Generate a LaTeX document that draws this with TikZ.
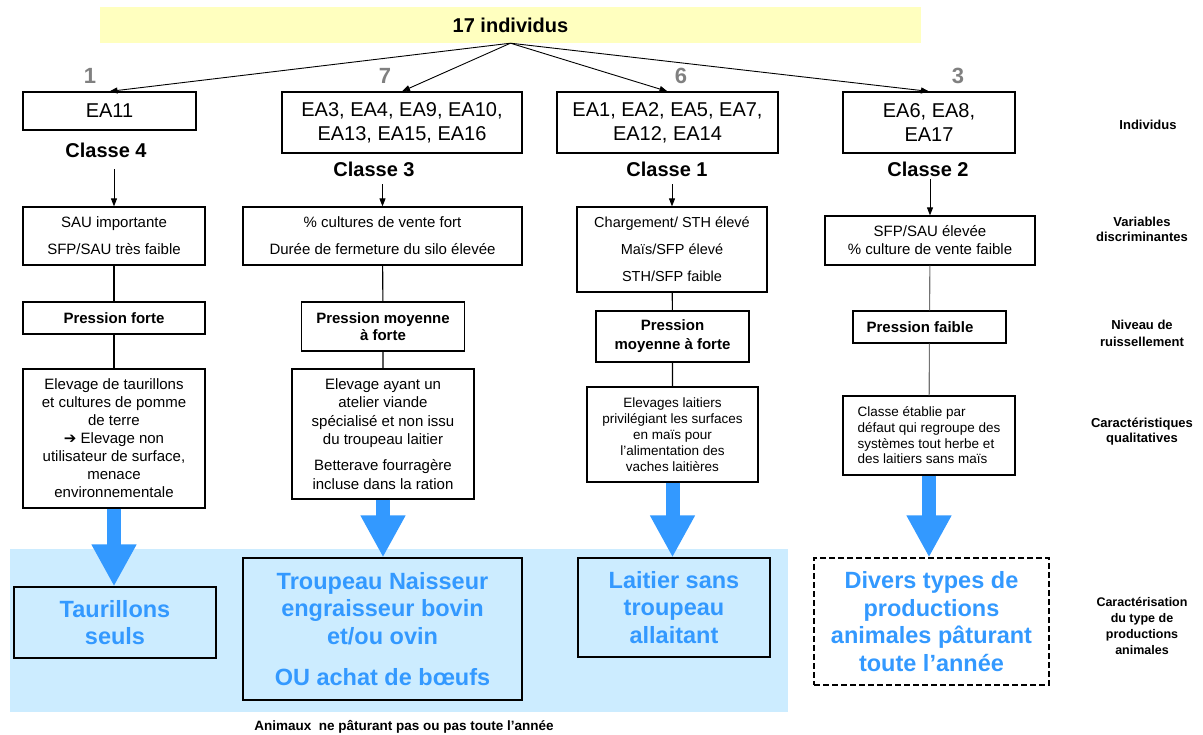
\documentclass[tikz,border=0pt]{standalone}
\usepackage{fontspec}
\setmainfont{Liberation Sans}
\newfontfamily\symb{DejaVu Sans}
\usetikzlibrary{arrows.meta}
\definecolor{bandeau}{RGB}{255,255,191}
\definecolor{fondbleu}{RGB}{204,236,255}
\definecolor{bleu}{RGB}{51,153,255}
\def\fs#1#2{\fontsize{#1}{#2}\selectfont}
\tikzset{
  boite/.style={draw, line width=1.2pt, inner sep=0pt, align=center},
  ea/.style={boite, font=\fs{20}{24}},
  var/.style={boite, font=\fs{15}{18}},
  pres/.style={boite, font=\bfseries\fs{15}{17}},
  classe/.style={font=\bfseries\fs{20}{24}},
  effectif/.style={font=\bfseries\fs{22}{26}, text=black!50},
  legende/.style={font=\bfseries\fs{13}{15}, align=center},
  fleche/.style={-{Triangle[length=8pt,width=6pt]}, line width=0.9pt},
  trait/.style={line width=1.1pt},
  grossefleche/.style={bleu, line width=14pt, -{Triangle[length=42pt,width=42pt]}},
  typeprod/.style={boite, font=\bfseries\fs{23.5}{27.5}, text=bleu},
}

\begin{document}
\begin{tikzpicture}[x=1pt,y=-1pt]
\useasboundingbox (0,0) rectangle (1203,735);
\fill[fondbleu] (10,549) rectangle (788,712);

\node[fill=bandeau, minimum width=821pt, minimum height=36pt, inner sep=0pt,
      font=\bfseries\fs{20}{24}] (top) at (510.5,25) {17 individus};

\node[effectif] (n4) at (90,76) {1};
\node[effectif] (n3) at (385,76) {7};
\node[effectif] (n1) at (681,76) {6};
\node[effectif] (n2) at (958,76) {3};

\node[ea, minimum width=173pt, minimum height=38pt] (ind4) at (109.5,111) {EA11};
\node[ea, minimum width=240pt, minimum height=61pt] (ind3) at (402,122.5) {EA3, EA4, EA9, EA10,\\EA13, EA15, EA16};
\node[ea, minimum width=221pt, minimum height=61pt] (ind1) at (667.5,122.5) {EA1, EA2, EA5, EA7,\\EA12, EA14};
\node[ea, minimum width=172pt, minimum height=61pt] (ind2) at (929,122.5) {EA6, EA8,\\EA17};

\node[classe] (cl4) at (106,150) {Classe 4};
\node[classe] (cl3) at (374,169) {Classe 3};
\node[classe] (cl1) at (667,169) {Classe 1};
\node[classe] (cl2) at (928,169) {Classe 2};

\node[var, minimum width=182pt, minimum height=58pt] (var4) at (114,236) {SAU importante\\[9pt]SFP/SAU très faible};
\node[var, minimum width=279pt, minimum height=58pt] (var3) at (382.5,236) {\% cultures de vente fort\\[9pt]Durée de fermeture du silo élevée};
\node[var, minimum width=190pt, minimum height=85pt, font=\fs{14.5}{18}] (var1) at (672,249.5) {Chargement/ STH élevé\\[9pt]Maïs/SFP élevé\\[9pt]STH/SFP faible};
\node[var, minimum width=210pt, minimum height=49pt] (var2) at (930,240.5) {SFP/SAU élevée\\\% culture de vente faible};

\node[pres, minimum width=182pt, minimum height=32pt] (pres4) at (114,318) {Pression forte};
\node[pres, minimum width=163.5pt, minimum height=49pt] (pres3) at (383,326.5) {Pression moyenne\\à forte};
\node[pres, minimum width=153pt, minimum height=51pt, font=\bfseries\fs{15}{19}] (pres1) at (672.5,336.5) {Pression\\moyenne à forte};
\node[pres, minimum width=153pt, minimum height=32pt] (pres2) at (929.5,327) {Pression faible\hspace*{19pt}};

\node[var, minimum width=182pt, minimum height=139pt] (qual4) at (114,438.5) {Elevage de taurillons\\et cultures de pomme\\de terre\\{\symb\bfseries ➔} Elevage non\\utilisateur de surface,\\menace\\environnementale};
\node[var, minimum width=182pt, minimum height=130pt, font=\fs{15}{18.3}] (qual3) at (383,434) {Elevage ayant un\\atelier viande\\spécialisé et non issu\\du troupeau laitier\\[8pt]Betterave fourragère\\incluse dans la ration};
\node[var, minimum width=171pt, minimum height=95pt, font=\fs{13.5}{16}] (qual1) at (672.5,434.5) {Elevages laitiers\\privilégiant les surfaces\\en maïs pour\\l'alimentation des\\vaches laitières};
\node[var, minimum width=172pt, minimum height=79pt, font=\fs{13.5}{15.7}, align=left] (qual2) at (929,435.5) {Classe établie par\\défaut qui regroupe des\\systèmes tout herbe et\\des laitiers sans maïs};

\node[typeprod, minimum width=202pt, minimum height=71pt] (type4) at (115,622.5) {Taurillons\\seuls};
\node[typeprod, minimum width=279pt, minimum height=142pt] (type3) at (382.5,629) {Troupeau Naisseur\\engraisseur bovin\\et/ou ovin\\[14pt]OU achat de bœufs};
\node[typeprod, minimum width=192pt, minimum height=99pt] (type1) at (674,607.5) {Laitier sans\\troupeau\\allaitant};
\node[typeprod, dash pattern=on 6pt off 3pt, minimum width=235pt, minimum height=127pt] (type2) at (931.5,621.5) {Divers types de\\productions\\animales pâturant\\toute l’année};

\node[legende, font=\bfseries\fs{13.5}{16}] (anim) at (404,727) {Animaux\ \ ne pâturant pas ou pas toute l'année};

\node[legende] (lind) at (1148,125) {Individus};
\node[legende] (lvar) at (1142,229) {Variables\\discriminantes};
\node[legende, font=\bfseries\fs{13}{17}] (lpres) at (1142,333) {Niveau de\\ruissellement};
\node[legende] (lqual) at (1142,432) {Caractéristiques\\qualitatives};
\node[legende, font=\bfseries\fs{12.5}{16}] (ltype) at (1142,626) {Caractérisation\\du type de\\productions\\animales};

\draw[fleche] (top.south) -- (ind4.north);
\draw[fleche] (top.south) -- (ind3.north);
\draw[fleche] (top.south) -- (ind1.north);
\draw[fleche] (top.south) -- (ind2.north);

\draw[fleche] ([yshift=37pt]var4.north) -- (var4.north);
\draw[fleche] ([yshift=22pt]var3.north) -- (var3.north);
\draw[fleche] ([yshift=22pt]var1.north) -- (var1.north);
\draw[fleche] ([yshift=36pt]var2.north) -- (var2.north);

\draw[trait] (var4) -- (pres4) -- (qual4);
\draw[trait] (var3) -- (pres3) -- (qual3);
\draw[trait] (var1) -- (pres1) -- (qual1);
\draw[trait, black!55] (var2) -- (pres2) -- (qual2);

\draw[grossefleche] (qual4.south) -- (qual4.south |- type4.north);
\draw[grossefleche] (qual3.south) -- (qual3.south |- type3.north);
\draw[grossefleche] (qual1.south) -- (qual1.south |- type1.north);
\draw[grossefleche] (qual2.south) -- (qual2.south |- type2.north);
\end{tikzpicture}
\end{document}
